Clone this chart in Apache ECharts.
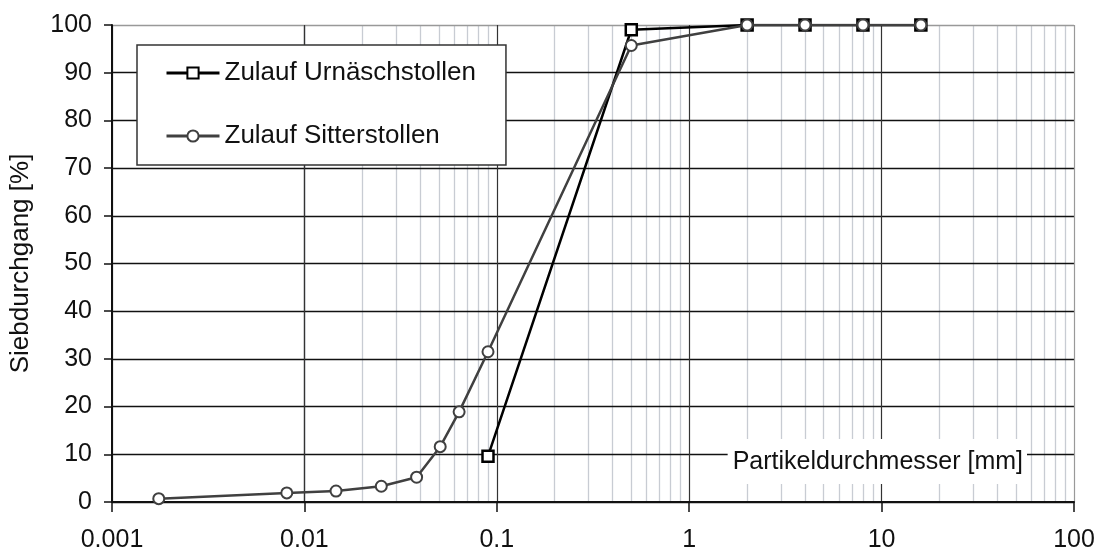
<!DOCTYPE html>
<html>
<head>
<meta charset="utf-8">
<script src="https://cdn.jsdelivr.net/npm/echarts@6/dist/echarts.min.js"></script>
<style>
html,body{margin:0;padding:0;background:#fff;}
#c{width:1101px;height:553px;}
</style>
</head>
<body>
<div id="c"></div>
<script>
// ---- data ----
const seriesNames = ['Zulauf Urnäschstollen', 'Zulauf Sitterstollen'];
const urnaeschX = [0.09, 0.5, 2, 4, 8, 16];
const urnaeschY = [9.6, 99.0, 100, 100, 100, 100];
const sitterX = [0.00175, 0.0081, 0.0146, 0.0251, 0.0383, 0.0508, 0.0637, 0.09, 0.5, 2, 4, 8, 16];
const sitterY = [0.7, 1.9, 2.3, 3.3, 5.2, 11.6, 18.9, 31.5, 95.7, 100, 100, 100, 100];
const xTickLabels = ['0.001', '0.01', '0.1', '1', '10', '100'];
const yTickLabels = ['0', '10', '20', '30', '40', '50', '60', '70', '80', '90', '100'];
const xAxisTitle = 'Partikeldurchmesser [mm]';
const yAxisTitle = 'Siebdurchgang [%]';

// minor log gridlines (2..9 within each decade)
const minorLines = [];
for (let d = -3; d < 2; d++) {
  for (let m = 2; m <= 9; m++) minorLines.push(m * Math.pow(10, d));
}

const FONT = "'Liberation Sans', Arial, sans-serif";
const chart = echarts.init(document.getElementById('c'), null, {renderer: 'canvas'});

const pair = (xs, ys) => xs.map((x, i) => [x, ys[i]]);

chart.setOption({
  animation: false,
  backgroundColor: '#fff',
  textStyle: {fontFamily: FONT},
  grid: {left: 100, right: 27, top: 25, bottom: 48, containLabel: false},
  legend: {
    data: seriesNames,
    orient: 'vertical',
    left: 137, top: 45,
    padding: [15, 30, 16, 28],
    itemGap: 37,
    itemWidth: 53, itemHeight: 14,
    backgroundColor: '#fff',
    borderColor: '#333', borderWidth: 1.5, borderRadius: 0,
    lineStyle: {width: 3},
    textStyle: {fontFamily: FONT, fontSize: 26, color: '#111'}
  },
  xAxis: {
    type: 'log', logBase: 10, min: 0.001, max: 100,
    name: '{t|' + xAxisTitle + '}',
    nameLocation: 'end', nameGap: -47,
    nameTextStyle: {
      align: 'right', verticalAlign: 'bottom', padding: [0, 0, 18, 0],
      rich: {t: {fontFamily: FONT, fontSize: 25, color: '#111', backgroundColor: '#fff', padding: [11, 4, 9, 5]}}
    },
    axisLine: {show: true, onZero: false, lineStyle: {color: '#111', width: 2}},
    axisTick: {show: true, inside: false, length: 10, lineStyle: {color: '#111', width: 1.5}},
    axisLabel: {
      fontFamily: FONT, fontSize: 25, color: '#111', margin: 26,
      formatter: v => xTickLabels[Math.round(Math.log10(v)) + 3]
    },
    splitLine: {show: true, lineStyle: {color: ['#333', '#333', '#333', '#333', '#333', '#999'], width: 1.2}},
    minorTick: {show: false}, minorSplitLine: {show: false}
  },
  yAxis: {
    type: 'value', min: 0, max: 100, interval: 10,
    name: yAxisTitle, nameLocation: 'middle', nameGap: 78,
    nameTextStyle: {fontFamily: FONT, fontSize: 26, color: '#111'},
    axisLine: {show: true, onZero: false, lineStyle: {color: '#111', width: 2}},
    axisTick: {show: true, inside: false, length: 8, lineStyle: {color: '#111', width: 1.5}},
    axisLabel: {
      fontFamily: FONT, fontSize: 25, color: '#111', margin: 20,
      formatter: v => yTickLabels[Math.round(v / 10)]
    },
    splitLine: {show: true, lineStyle: {color: ['#111', '#111', '#111', '#111', '#111', '#111', '#111', '#111', '#111', '#111', '#999'], width: 1.4}}
  },
  series: [
    {
      name: '_minor', type: 'line', data: [], z: -1, silent: true,
      markLine: {
        z: -1, zlevel: 0,
        silent: true, symbol: ['none', 'none'], label: {show: false},
        lineStyle: {color: '#c8ccd3', width: 1.3, type: 'solid'},
        data: minorLines.map(v => ({xAxis: v}))
      }
    },
    {
      name: seriesNames[0], type: 'line', data: pair(urnaeschX, urnaeschY), z: 3,
      symbol: 'rect', symbolSize: 11,
      itemStyle: {color: '#fff', borderColor: '#000', borderWidth: 2.5},
      lineStyle: {color: '#000', width: 2.5}
    },
    {
      name: seriesNames[1], type: 'line', data: pair(sitterX, sitterY), z: 4,
      symbol: 'circle', symbolSize: 11,
      itemStyle: {color: '#fff', borderColor: '#404040', borderWidth: 2},
      lineStyle: {color: '#404040', width: 2.5}
    }
  ]
});
</script>
</body>
</html>
